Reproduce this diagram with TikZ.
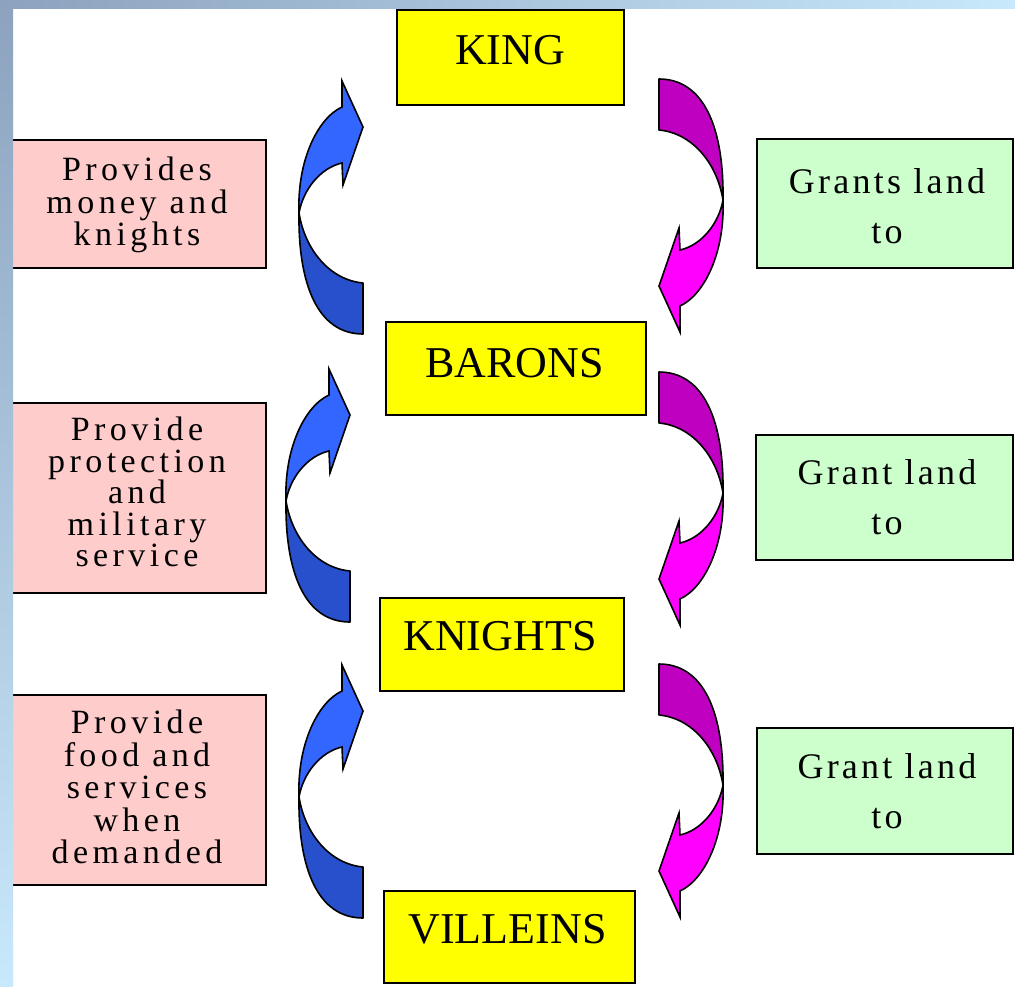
\documentclass[tikz,border=0pt]{standalone}
\usepackage{fontspec}
\setmainfont{Liberation Serif}
\newfontfamily\spacedserif{Liberation Serif}[LetterSpace=9]
\newfontfamily\widespaced{Liberation Serif}[LetterSpace=13]
\definecolor{rankyellow}{HTML}{FFFF00}
\definecolor{pinkfill}{HTML}{FFCCCC}
\definecolor{greenfill}{HTML}{CCFFCC}
\definecolor{blueHead}{HTML}{3366FF}
\definecolor{blueTail}{HTML}{2850CC}
\definecolor{magHead}{HTML}{FF00FF}
\definecolor{magTail}{HTML}{C000C0}
\definecolor{stripDark}{HTML}{8CA2BE}
\definecolor{stripLight}{HTML}{C8E8FB}
\tikzset{
  box/.style={draw=black, line width=2pt, rectangle, inner sep=0pt},
  rankbox/.style={box, fill=rankyellow},
  dutybox/.style={box, fill=pinkfill},
  grantbox/.style={box, fill=greenfill},
  ranktext/.style={font=\fontsize{44}{50}\selectfont, anchor=base, inner sep=0pt},
  dutytext/.style={font=\widespaced\fontsize{34}{32.5}\selectfont, align=center, inner sep=0pt},
  granttext/.style={font=\spacedserif\fontsize{36}{50}\selectfont, align=center, inner sep=0pt},
  pics/bendarrow/.style 2 args={code={
    \filldraw[fill=#2, draw=black, line width=1.6pt, line join=round]
      (-43,132) .. controls (-44,204) and (-24,253) .. (21,253)
      -- (21,202) .. controls (-12,199) and (-37,169) .. cycle;
    \filldraw[fill=#1, draw=black, line width=1.6pt, line join=miter]
      (-43,132) .. controls (-45,79) and (-24,37) .. (0,26)
      -- (0,0) -- (21,46) -- (1,104) -- (0,82)
      .. controls (-22,87) and (-39,109) .. cycle;
  }}
}
\begin{document}
\begin{tikzpicture}[x=1pt,y=-1pt]
\useasboundingbox (0,0) rectangle (1015,986);
\fill[white] (0,0) rectangle (1015,986);

% rank boxes
\node[rankbox, minimum width=227pt, minimum height=95pt] (king) at (510.5,57.5) {};
\node[rankbox, minimum width=260pt, minimum height=93pt] (barons) at (516,368.5) {};
\node[rankbox, minimum width=244pt, minimum height=93pt] (knights) at (502,644.5) {};
\node[rankbox, minimum width=251pt, minimum height=92pt] (villeins) at (509.5,937) {};
\node[ranktext] (kingtxt) at (510,64) {KING};
\node[ranktext] (baronstxt) at (514.5,377) {BARONS};
\node[ranktext] (knightstxt) at (500,650) {KNIGHTS};
\node[ranktext] (villeinstxt) at (507.5,943) {VILLEINS};

% duty boxes
\node[dutybox, minimum width=257pt, minimum height=128pt] (duty1) at (137.5,204) {};
\node[dutybox, minimum width=257pt, minimum height=190pt] (duty2) at (137.5,498) {};
\node[dutybox, minimum width=257pt, minimum height=190pt] (duty3) at (137.5,790) {};
\node[dutytext] (duty1txt) at (137,205) {Provides\\money and\\knights};
\node[dutytext, font=\widespaced\fontsize{34}{31.5}\selectfont] (duty2txt) at (137,492) {Provide\\protection\\and\\military\\service};
\node[dutytext] (duty3txt) at (137,787) {Provide\\food and\\services\\when\\demanded};

% grant boxes
\node[grantbox, minimum width=256pt, minimum height=129pt] (grant1) at (885,203.5) {};
\node[grantbox, minimum width=257pt, minimum height=125pt] (grant2) at (884.5,497.5) {};
\node[grantbox, minimum width=256pt, minimum height=126pt] (grant3) at (885,791) {};
\node[granttext] (grant1txt) at (887,206.5) {Grants land\\to};
\node[granttext] (grant2txt) at (887,497) {Grant land\\to};
\node[granttext] (grant3txt) at (887,791.5) {Grant land\\to};

% curved arrows
\pic at (342,81) {bendarrow={blueHead}{blueTail}};
\pic at (329,369) {bendarrow={blueHead}{blueTail}};
\pic at (342,665) {bendarrow={blueHead}{blueTail}};
\pic[rotate=180] at (680,332) {bendarrow={magHead}{magTail}};
\pic[rotate=180] at (680,625) {bendarrow={magHead}{magTail}};
\pic[rotate=180] at (680,917) {bendarrow={magHead}{magTail}};

% background strips
\shade[top color=stripDark, bottom color=stripLight] (0,0) rectangle (13,986);
\shade[left color=stripDark, right color=stripLight] (0,0) rectangle (1015,8);
\end{tikzpicture}
\end{document}
